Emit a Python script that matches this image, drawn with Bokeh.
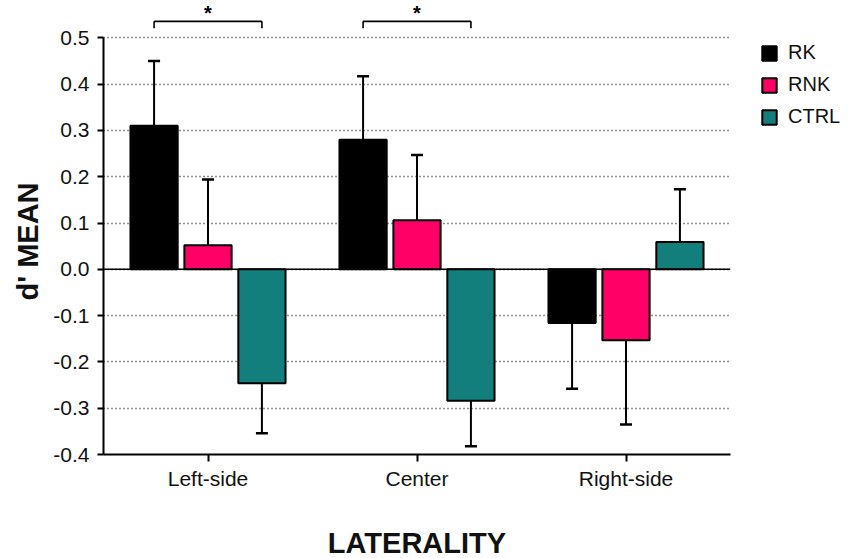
from bokeh.plotting import figure
from bokeh.models import (ColumnDataSource, FactorRange, FixedTicker, Span, Whisker,
                          TeeHead, Legend, LegendItem, Title, Range1d)
from bokeh.transform import dodge
from bokeh.embed import file_html
from bokeh.resources import INLINE
from bokeh.core.properties import value

categories = ["Left-side", "Center", "Right-side"]
series = ["RK", "RNK", "CTRL"]
colors = ["#000000", "#FF0066", "#137F7C"]
rk = [0.310, 0.280, -0.116]
rnk = [0.052, 0.106, -0.153]
ctrl = [-0.246, -0.284, 0.059]
rk_sem = [0.140, 0.137, 0.142]
rnk_sem = [0.142, 0.141, 0.182]
ctrl_sem = [0.108, 0.098, 0.114]
y_ticks = [-0.4, -0.3, -0.2, -0.1, 0.0, 0.1, 0.2, 0.3, 0.4, 0.5]
sig_pairs = [("Left-side", "RK", "CTRL"), ("Center", "RK", "CTRL")]

FONT = "Liberation Sans"
offsets = {"RK": -0.258, "RNK": 0.0, "CTRL": 0.258}

p = figure(x_range=FactorRange(*categories, range_padding=0),
           y_range=Range1d(-0.4, 0.5806),
           frame_width=627, frame_height=454,
           output_backend="svg", toolbar_location=None,
           min_border_left=103, min_border_top=0, min_border_right=113, min_border_bottom=100)
p.outline_line_color = None
p.background_fill_color = "white"

# grid
p.xgrid.grid_line_color = None
p.ygrid.ticker = FixedTicker(ticks=[t for t in y_ticks if t > -0.35])
p.ygrid.grid_line_color = "#222222"
p.ygrid.grid_line_dash = "1 3"
p.ygrid.grid_line_width = 1.5

p.add_layout(Span(location=0, dimension="width", line_color="black", line_width=1.6))

vals = {"RK": rk, "RNK": rnk, "CTRL": ctrl}
sems = {"RK": rk_sem, "RNK": rnk_sem, "CTRL": ctrl_sem}
items = []
for s, c in zip(series, colors):
    v = vals[s]
    e = sems[s]
    src = ColumnDataSource(dict(cat=categories, val=v, sem=e))
    pos = [i for i in range(len(v)) if v[i] >= 0]
    neg = [i for i in range(len(v)) if v[i] < 0]
    if pos:
        sp = ColumnDataSource(dict(cat=[categories[i] for i in pos],
                                   lo=[v[i] for i in pos],
                                   hi=[v[i] + e[i] for i in pos]))
        p.add_layout(Whisker(source=sp, base=dodge("cat", offsets[s], range=p.x_range),
                             lower="lo", upper="hi", line_width=2, line_color="black",
                             upper_head=TeeHead(size=12, line_width=2.5, line_color="black"),
                             lower_head=None))
    if neg:
        sn = ColumnDataSource(dict(cat=[categories[i] for i in neg],
                                   lo=[v[i] - e[i] for i in neg],
                                   hi=[v[i] for i in neg]))
        p.add_layout(Whisker(source=sn, base=dodge("cat", offsets[s], range=p.x_range),
                             lower="lo", upper="hi", line_width=2, line_color="black",
                             lower_head=TeeHead(size=12, line_width=2.5, line_color="black"),
                             upper_head=None))
    r = p.vbar(x=dodge("cat", offsets[s], range=p.x_range), top="val", bottom=0,
               width=0.226, source=src, fill_color=c, line_color="black", line_width=2)
    items.append(LegendItem(label=s, renderers=[r]))

# significance brackets
for cat, a, b in sig_pairs:
    xa = dodge("cat", offsets[a], range=p.x_range)
    xb = dodge("cat", offsets[b], range=p.x_range)
    bs = ColumnDataSource(dict(cat=[cat], y0=[0.5356], y1=[0.5205], ys=[0.5767]))
    p.segment(x0=xa, y0="y0", x1=xb, y1="y0", source=bs, line_color="black", line_width=1.6)
    p.segment(x0=xa, y0="y0", x1=xa, y1="y1", source=bs, line_color="black", line_width=1.6)
    p.segment(x0=xb, y0="y0", x1=xb, y1="y1", source=bs, line_color="black", line_width=1.6)
    p.text(x=dodge("cat", 0, range=p.x_range), y="ys", text=value("*"), source=bs,
           text_font=value(FONT), text_font_size="20px", text_font_style="bold",
           text_align="center", text_baseline="top", text_color="black")

# axes
yax = p.yaxis[0]
yax.ticker = FixedTicker(ticks=y_ticks)
yax.bounds = (-0.4, 0.5)
yax.major_label_overrides = {t: ("%.1f" % t) for t in y_ticks}
yax.axis_line_width = 2
yax.major_tick_line_width = 2
yax.major_tick_in = 0
yax.major_tick_out = 6
yax.minor_tick_line_color = None
yax.major_label_text_font = FONT
yax.major_label_text_font_size = "21px"
yax.major_label_text_color = "#111111"
yax.major_label_standoff = 8

xax = p.xaxis[0]
xax.axis_line_width = 2
xax.major_tick_line_width = 2
xax.major_tick_in = 0
xax.major_tick_out = 7
xax.major_label_text_font = FONT
xax.major_label_text_font_size = "21px"
xax.major_label_text_color = "#111111"
xax.major_label_standoff = 5
xax.axis_label = "LATERALITY"
xax.axis_label_text_font = FONT
xax.axis_label_text_font_size = "29px"
xax.axis_label_text_font_style = "bold"
xax.axis_label_text_color = "#111111"
xax.axis_label_standoff = 34

p.add_layout(Title(text="d' MEAN", align="left", offset=154,
                   text_font=FONT, text_font_size="29px", text_font_style="bold",
                   text_color="#111111", standoff=14), "left")

legend = Legend(items=items, location=(30, 326), orientation="vertical",
                glyph_width=18, glyph_height=18, label_height=18, spacing=9,
                label_standoff=10, label_text_font=FONT, label_text_font_size="20px",
                label_text_color="#111111", border_line_color=None,
                background_fill_alpha=0, padding=0, margin=0)
p.add_layout(legend, "right")

open("out.html", "w").write(file_html(p, INLINE))
